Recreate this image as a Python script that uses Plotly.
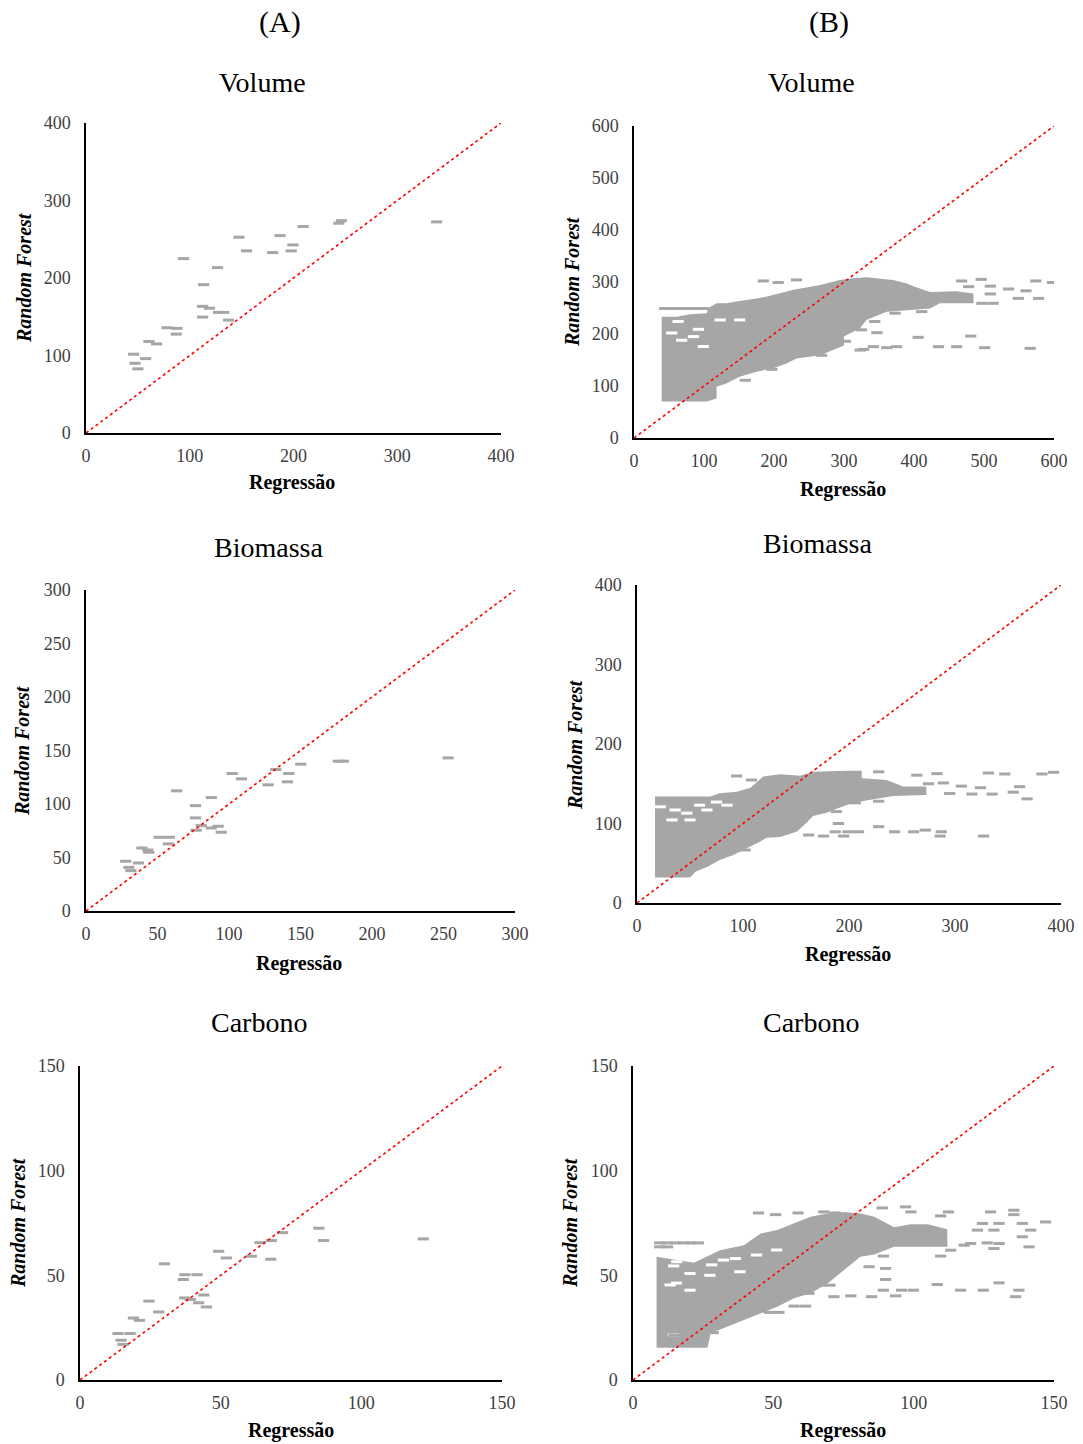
import plotly.graph_objects as go

# ---------------- (A) Volume ----------------
vol_a_reg = [45.9, 47.2, 50.0, 57.5, 60.7, 68.0, 78.0, 87.6, 87.0, 94.0, 113.3, 112.4, 119.0, 112.4,
             126.8, 127.8, 132.6, 137.4, 147.4, 154.7, 180.0, 187.0, 197.8, 199.4, 209.3, 243.7, 246.2, 338.0]
vol_a_rf = [101.7, 90.0, 82.8, 96.0, 118.0, 115.0, 135.8, 135.0, 127.6, 225.0, 191.4, 163.4, 161.0, 149.6,
            213.4, 155.6, 155.6, 145.7, 252.6, 235.0, 232.8, 254.7, 235.0, 242.7, 266.4, 270.7, 274.0, 272.4]

# ---------------- (A) Biomassa ----------------
bio_a_reg = [27.8, 30.0, 31.4, 36.7, 39.1, 43.9, 43.2, 51.1, 58.3, 57.6, 63.4, 76.6, 76.6, 77.0, 80.6,
             87.6, 87.6, 92.4, 94.6, 102.2, 108.7, 127.4, 132.7, 141.8, 140.9, 150.2, 176.4, 180.0, 253.2]
bio_a_rf = [46.5, 40.8, 37.7, 44.9, 58.9, 54.9, 57.0, 68.9, 68.9, 62.7, 112.3, 98.5, 87.0, 75.5, 79.8,
            106.0, 77.6, 79.2, 73.6, 128.5, 123.5, 117.9, 132.2, 128.5, 120.7, 137.2, 140.0, 140.0, 143.1]

# ---------------- (A) Carbono ----------------
car_a_reg = [13.5, 14.6, 15.3, 17.8, 19.0, 21.1, 24.5, 28.0, 30.0, 36.7, 37.3, 37.2, 39.2, 41.6, 42.2,
             44.0, 44.9, 49.3, 52.0, 60.9, 64.0, 68.0, 67.8, 72.0, 84.9, 86.6, 122.0]
car_a_rf = [22.2, 19.0, 17.0, 22.2, 29.6, 28.5, 37.7, 32.5, 55.5, 48.0, 50.3, 39.2, 38.5, 50.3, 36.9,
            40.6, 34.9, 61.5, 58.3, 59.1, 65.6, 66.6, 57.7, 70.4, 72.5, 66.6, 67.4]

# ---------------- (B) Volume ----------------
# outline of the solid (overlapping) mass of points
vol_b_core_reg = [39.5, 39.5, 61, 80, 104, 106, 118, 132, 144, 161, 175, 190, 199, 213, 228, 266, 275,
                  294, 313, 332, 370, 390, 399, 423, 461, 485, 485, 437, 423, 385, 361, 332, 323, 300,
                  300, 266, 232, 218, 199, 175, 151, 132, 118, 118, 104]
vol_b_core_rf = [70, 233, 233, 238, 240, 250, 259, 259, 262, 265, 268.5, 272, 275, 281, 285, 294, 297,
                 304, 307, 309, 304, 297, 292, 281, 282, 278, 259, 259, 249, 246, 243, 227, 211, 195,
                 178, 159, 153, 143.5, 134, 127.5, 118, 105, 98.6, 76, 70]
vol_b_band_reg = [44, 55, 66, 77, 88, 99]
vol_b_band_rf = [249, 249, 249, 249, 249, 249]
vol_b_hole_reg = [63, 54, 85, 99, 123, 92, 68, 151]
vol_b_hole_rf = [224, 202, 195, 176, 227, 209, 188, 227]
vol_b_out_reg = [184.7, 206, 232, 468, 496, 478, 509, 535, 574, 598, 560, 549, 578, 509, 473, 497, 513,
                 344, 325, 347, 406, 481, 323, 342, 361, 375, 435, 461, 501, 566, 302, 268, 373, 411,
                 197, 159, 328]
vol_b_out_rf = [302, 299, 304, 302, 305, 291, 292, 286.5, 302, 299, 283, 268.5, 268.5, 277, 275, 259, 259,
                224, 208, 202.5, 193.6, 196, 169, 175.6, 173.7, 175.6, 175.6, 175.6, 173.7, 172.4, 186, 159,
                240, 243, 132, 111, 170.5]

# ---------------- (B) Biomassa ----------------
bio_b_core_reg = [17, 17, 69, 78, 94, 107, 119, 135, 154, 166, 198, 212, 212, 235.5, 251, 273, 273, 242,
                  223, 204, 191.5, 179, 166, 160, 151, 135, 122, 116, 103, 91, 78, 66, 55, 50]
bio_b_core_rf = [32, 134, 134, 138, 140, 145, 159, 162, 160, 165, 166.5, 166.5, 157, 154.7, 146.4, 146.4,
                 136, 134.6, 130.4, 126, 120, 113.6, 109.4, 101, 90, 83, 82, 77, 68.7, 60.4, 54, 45.4, 39.4, 32]
bio_b_hole_reg = [22, 36, 47, 50, 66, 59, 75, 33, 85]
bio_b_hole_rf = [121, 117, 113, 104.5, 117, 123, 127, 104.5, 123]
bio_b_out_reg = [94, 108, 228, 231, 264, 283, 275, 289, 306, 324, 295, 316, 335, 331.5, 347, 382, 393,
                 361, 355, 368, 190, 188, 228, 243, 261, 272, 287, 286, 327, 209, 199, 187, 195, 176, 162,
                 102, 206, 228]
bio_b_out_rf = [159.8, 154.7, 165, 152.5, 160.8, 162.7, 150, 151, 147, 145, 137.7, 137, 137, 163.5, 162.3,
                162.3, 164.4, 146.3, 139.4, 131, 100, 115, 96, 89.6, 89.6, 91.7, 89.6, 84.2, 84.2, 89.6,
                89.6, 89.6, 84.2, 84.2, 85.5, 66.7, 126, 128]

# ---------------- (B) Carbono ----------------
car_b_core_reg = [8.4, 8.4, 21.7, 31, 39.5, 45.5, 51.4, 57.4, 63.3, 69.2, 75.2, 81, 86, 93, 99, 105, 112,
                  112, 99, 93, 86, 81, 75.2, 69.2, 63.3, 57.4, 51.4, 45.5, 39.5, 33.6, 27.7, 26.5]
car_b_core_rf = [15.4, 58.9, 56, 62, 64.4, 70, 71.6, 74.8, 78, 79.5, 80.3, 79.5, 78, 73, 74.4, 74.4, 72,
                 63.6, 63.6, 63.6, 60, 58.9, 52.5, 46, 41.4, 39, 35, 31.8, 28.6, 25.4, 22.3, 15.4]
car_b_band_reg = [9.5, 12.3, 15.1, 17.9, 20.7, 23.3, 9.5, 12.3]
car_b_band_rf = [65.5, 65.5, 65.5, 65.5, 65.5, 65.5, 63.6, 63.6]
car_b_hole_reg = [13.2, 20.3, 20.3, 15.6, 32.2, 38.1, 51.2, 14.4, 27.4, 44.0, 15.5, 14.5, 28.0, 36.5]
car_b_hole_rf = [45.4, 42.9, 50.9, 56.5, 57.3, 51.7, 62.1, 21.6, 50.0, 59.7, 46.3, 54.5, 55.0, 58.0]
car_b_out_reg = [44.7, 50.8, 58.8, 68, 72, 88.8, 97.1, 99, 109.6, 112.4, 127.4, 135.7, 135.7, 124.5, 130.4,
                 138.7, 147, 141.7, 128.6, 122.7, 138.7, 128.6, 130.4, 141.1, 109.6, 113.2, 120.3, 126.2,
                 109.6, 118, 90, 90, 108.4, 130.4, 89.2, 95.7, 99.9, 116.7, 124.8, 137.5, 136.3, 93.6,
                 85, 77.6, 71.6, 70.2, 66.9, 62.7, 57.4, 61.5, 52, 48.5, 28.6, 14.6, 84.1, 89.2]
car_b_out_rf = [79.8, 79, 79.8, 80.3, 79.8, 82.2, 82.7, 80.3, 78.4, 80.3, 80.3, 81.1, 79, 74.8, 74.8, 74.8,
                75.5, 71.6, 71.6, 71.6, 68.4, 62.8, 65.2, 63.6, 68.4, 62, 65.2, 65.5, 59.2, 64.4, 53.3, 48,
                45.6, 46.4, 42.9, 42.9, 42.9, 42.9, 42.9, 42.9, 39.8, 40.2, 39.8, 40.2, 39.8, 45.3, 45.3,
                41.4, 35.3, 35.3, 32.3, 32.3, 22.6, 21.5, 54.1, 59.2]

column_labels = ["(A)", "(B)"]
panel_titles = ["Volume", "Volume", "Biomassa", "Biomassa", "Carbono", "Carbono"]
axis_max = [400, 600, 300, 400, 150, 150]
axis_ticks = [[0, 100, 200, 300, 400], [0, 100, 200, 300, 400, 500, 600],
              [0, 50, 100, 150, 200, 250, 300], [0, 100, 200, 300, 400],
              [0, 50, 100, 150], [0, 50, 100, 150]]
x_title = "Regressão"
y_title = "Random Forest"

W, H = 1083, 1444
GREY = "#a6a6a6"
FONT = "Liberation Serif"

# plot-area pixel boxes (left, right, top, bottom)
boxes = [(86, 501, 123, 433), (634, 1054, 126, 438),
         (86, 515, 590, 911), (637, 1061, 585, 903),
         (80, 502, 1066, 1380), (633, 1054, 1066, 1380)]
title_pos = [(262, 82), (812, 83), (268, 547), (817, 544), (259, 1023), (811, 1023)]
xt_pos = [(292, 482), (843, 489), (299, 963), (848, 954), (291, 1430), (843, 1430)]
yt_pos = [(24, 278), (572, 282), (22, 751), (575, 745), (18, 1223), (570, 1223)]

fig = go.Figure()


def axes_of(i):
    ax = "" if i == 0 else str(i + 1)
    return "x" + ax, "y" + ax


def dash_trace(xs, ys, i, color=GREY):
    xa, ya = axes_of(i)
    return go.Scatter(x=xs, y=ys, mode="markers", xaxis=xa, yaxis=ya,
                      marker=dict(symbol="line-ew", size=8, color=color,
                                  line=dict(width=3, color=color)),
                      showlegend=False, hoverinfo="skip")


def core_trace(xs, ys, i):
    xa, ya = axes_of(i)
    return go.Scatter(x=xs, y=ys, mode="lines", fill="toself", fillcolor=GREY,
                      line=dict(width=0, color=GREY), xaxis=xa, yaxis=ya,
                      showlegend=False, hoverinfo="skip")


# data traces
fig.add_trace(dash_trace(vol_a_reg, vol_a_rf, 0))
fig.add_trace(core_trace(vol_b_core_reg, vol_b_core_rf, 1))
fig.add_trace(dash_trace(vol_b_hole_reg, vol_b_hole_rf, 1, "white"))
fig.add_trace(dash_trace(vol_b_band_reg, vol_b_band_rf, 1))
fig.add_trace(dash_trace(vol_b_out_reg, vol_b_out_rf, 1))
fig.add_trace(dash_trace(bio_a_reg, bio_a_rf, 2))
fig.add_trace(core_trace(bio_b_core_reg, bio_b_core_rf, 3))
fig.add_trace(dash_trace(bio_b_hole_reg, bio_b_hole_rf, 3, "white"))
fig.add_trace(dash_trace(bio_b_out_reg, bio_b_out_rf, 3))
fig.add_trace(dash_trace(car_a_reg, car_a_rf, 4))
fig.add_trace(core_trace(car_b_core_reg, car_b_core_rf, 5))
fig.add_trace(dash_trace(car_b_hole_reg, car_b_hole_rf, 5, "white"))
fig.add_trace(dash_trace(car_b_band_reg, car_b_band_rf, 5))
fig.add_trace(dash_trace(car_b_out_reg, car_b_out_rf, 5))

# 1:1 lines
for i, m in enumerate(axis_max):
    xa, ya = axes_of(i)
    fig.add_trace(go.Scatter(x=[0, m], y=[0, m], mode="lines", xaxis=xa, yaxis=ya,
                             line=dict(color="#ff0000", width=1.6, dash="dot"),
                             showlegend=False, hoverinfo="skip"))

layout = dict(width=W, height=H, margin=dict(l=0, r=0, t=0, b=0, autoexpand=False),
              paper_bgcolor="white", plot_bgcolor="white", showlegend=False,
              font=dict(family=FONT, color="#404040", size=18))
annotations = []
for i, (l, r, t, b) in enumerate(boxes):
    sfx = "" if i == 0 else str(i + 1)
    common = dict(showgrid=False, zeroline=False, showline=True, linecolor="#000000", linewidth=1.5,
                  ticks="", tickfont=dict(family=FONT, size=18, color="#404040"),
                  range=[0, axis_max[i]], tickvals=axis_ticks[i], fixedrange=True, automargin=False)
    layout["xaxis" + sfx] = dict(common, domain=[l / W, r / W], anchor="y" + sfx, ticklabelstandoff=6)
    layout["yaxis" + sfx] = dict(common, domain=[1 - b / H, 1 - t / H], anchor="x" + sfx, ticklabelstandoff=10)
    tx, ty = title_pos[i]
    annotations.append(dict(text=panel_titles[i], x=tx / W, y=1 - ty / H, xref="paper", yref="paper",
                            showarrow=False, xanchor="center", yanchor="middle",
                            font=dict(family=FONT, size=28, color="#000000")))
    xx, xy = xt_pos[i]
    annotations.append(dict(text="<b>" + x_title + "</b>", x=xx / W, y=1 - xy / H, xref="paper", yref="paper",
                            showarrow=False, xanchor="center", yanchor="middle",
                            font=dict(family=FONT, size=20, color="#000000")))
    yx, yy = yt_pos[i]
    annotations.append(dict(text="<b><i>" + y_title + "</i></b>", x=yx / W, y=1 - yy / H, xref="paper",
                            yref="paper", showarrow=False, xanchor="center", yanchor="middle", textangle=-90,
                            font=dict(family=FONT, size=20, color="#000000")))

for lab, px in zip(column_labels, [280, 829]):
    annotations.append(dict(text=lab, x=px / W, y=1 - 22 / H, xref="paper", yref="paper", showarrow=False,
                            xanchor="center", yanchor="middle", font=dict(family=FONT, size=30, color="#000000")))

layout["annotations"] = annotations
fig.update_layout(**layout)
fig.write_html("out.html",
               post_script="document.body.style.margin='0px';document.body.style.padding='0px';"
                           "document.documentElement.style.overflow='hidden';")
